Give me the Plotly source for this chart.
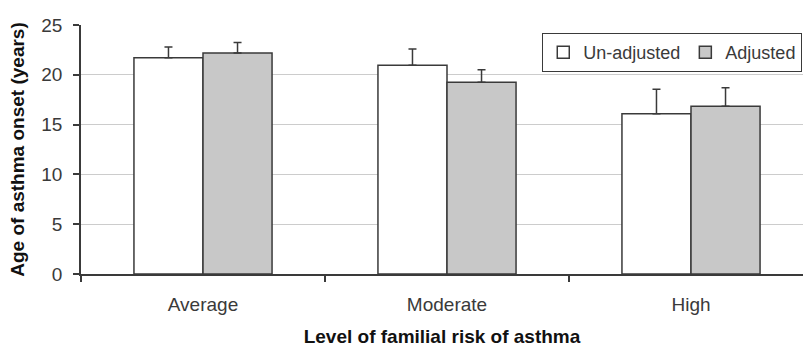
import plotly.graph_objects as go

categories = ["Average", "Moderate", "High"]
series_names = ["Un-adjusted", "Adjusted"]
unadjusted = [21.7, 20.95, 16.1]
unadjusted_err = [1.1, 1.65, 2.45]
adjusted = [22.2, 19.25, 16.85]
adjusted_err = [1.05, 1.25, 1.85]
y_ticks = [0, 5, 10, 15, 20, 25]

FONT = "Liberation Sans, Arial, sans-serif"
EDGE = "#3a3a3a"

fig = go.Figure()
for name, vals, errs, fill in [
    (series_names[0], unadjusted, unadjusted_err, "#ffffff"),
    (series_names[1], adjusted, adjusted_err, "#c8c8c8"),
]:
    fig.add_trace(go.Bar(
        name=name, x=categories, y=vals,
        marker=dict(color=fill, line=dict(color=EDGE, width=1.5)),
        error_y=dict(type="data", symmetric=False, array=errs,
                     arrayminus=[0] * len(errs), color=EDGE,
                     thickness=1.5, width=4),
    ))

fig.update_layout(
    width=803, height=348,
    margin=dict(l=81, r=0, t=25, b=74, autoexpand=False),
    paper_bgcolor="white", plot_bgcolor="white",
    barmode="group", bargap=0.434, bargroupgap=0,
    font=dict(family=FONT, size=19, color="#3a3a3a"),
    showlegend=True,
    legend=dict(
        orientation="h", x=0.999, y=0.968, xanchor="right", yanchor="top",
        bgcolor="white", bordercolor=EDGE, borderwidth=1,
        font=dict(family=FONT, size=18, color="#3a3a3a"),
        traceorder="normal", itemwidth=30,
    ),
)
fig.update_xaxes(
    range=[-0.5, 2.459], showgrid=False, automargin=False,
    showline=True, linecolor=EDGE, linewidth=1.5,
    ticks="outside", tickson="boundaries", ticklen=6, tickcolor=EDGE,
    tickwidth=1.5, ticklabelstandoff=12,
    title=dict(text="<b>Level of familial risk of asthma</b>",
               font=dict(family=FONT, size=19, color="#111111"), standoff=16),
)
fig.update_yaxes(
    range=[0, 25], tickvals=y_ticks, automargin=False,
    showgrid=True, gridcolor="#cccccc", gridwidth=1,
    showline=True, linecolor=EDGE, linewidth=1.5,
    ticks="outside", ticklen=6, tickcolor=EDGE, tickwidth=1.5,
    ticklabelstandoff=7, zeroline=False,
    title=dict(text="<b>Age of asthma onset (years)</b>",
               font=dict(family=FONT, size=19, color="#111111"), standoff=12),
)

fig.write_html("out.html", config={"displayModeBar": False},
               post_script="document.body.style.margin='0';document.body.style.overflow='hidden';")
